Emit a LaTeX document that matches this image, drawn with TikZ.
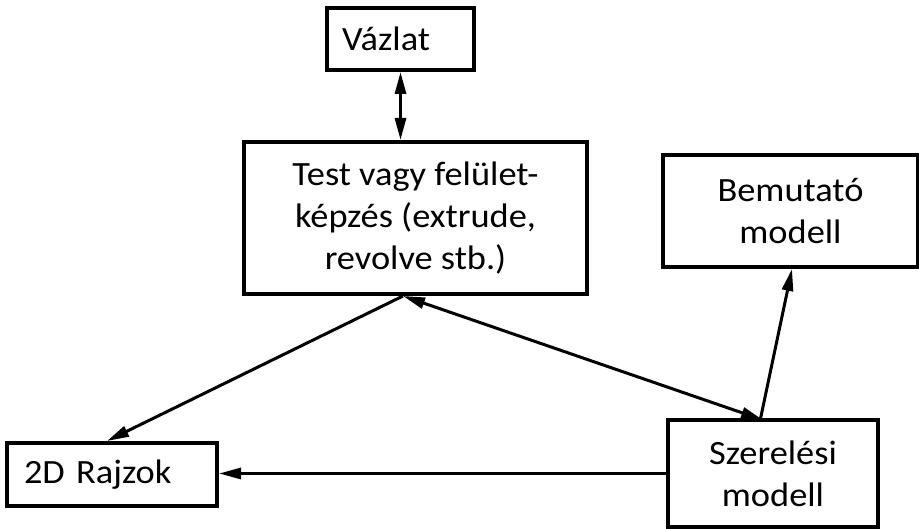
\documentclass[tikz,border=0pt]{standalone}
\usepackage{fontspec}
\setmainfont{Carlito}[FakeStretch=1.07]
\usetikzlibrary{arrows.meta,calc}
\begin{document}
\begin{tikzpicture}[x=1pt,y=-1pt,
  box/.style={draw,line width=4pt,rectangle,font=\fontsize{34}{42}\selectfont,inner sep=0pt},
  conn/.style={line width=3pt,-{Triangle[length=22pt,width=11pt]}},
  conn2/.style={line width=3pt,{Triangle[length=22pt,width=11pt]}-{Triangle[length=22pt,width=11pt]}}]
\useasboundingbox (0,0) rectangle (919,529);
% boxes
\node[box,minimum width=147pt,minimum height=62pt,text width=117pt,inner xsep=15pt,align=left] (vaz) at (400.5,39) {Vázlat};
\node[box,minimum width=343pt,minimum height=152pt,align=center] (test) at (415.5,218)
  {Test vagy felület-\\képzés (extrude,\\revolve stb.)};
\node[box,minimum width=255pt,minimum height=112pt,align=center] (bem) at (790.5,211) {Bemutató\\modell};
\node[box,minimum width=210pt,minimum height=63pt,text width=176pt,inner xsep=17pt,align=left] (drw) at (112,474.5) {2D Rajzok};
\node[box,minimum width=210pt,minimum height=107pt,align=center] (sze) at (773,473.5) {Szerelési\\modell};
% connectors
\draw[conn2] (vaz.south) -- (vaz.south |- test.north);
\coordinate (tb) at ([xshift=-12.5pt]test.south);
\draw[conn] (tb) -- ([xshift=-5pt]drw.north);
\draw[conn2] (tb) -- ([xshift=-10pt,yshift=-2pt]sze.north);
\draw[conn] ([xshift=-13pt,yshift=-3pt]sze.north) -- ([xshift=1.5pt]bem.south);
\draw[conn] (sze.west) -- (sze.west -| drw.east);
\end{tikzpicture}
\end{document}
